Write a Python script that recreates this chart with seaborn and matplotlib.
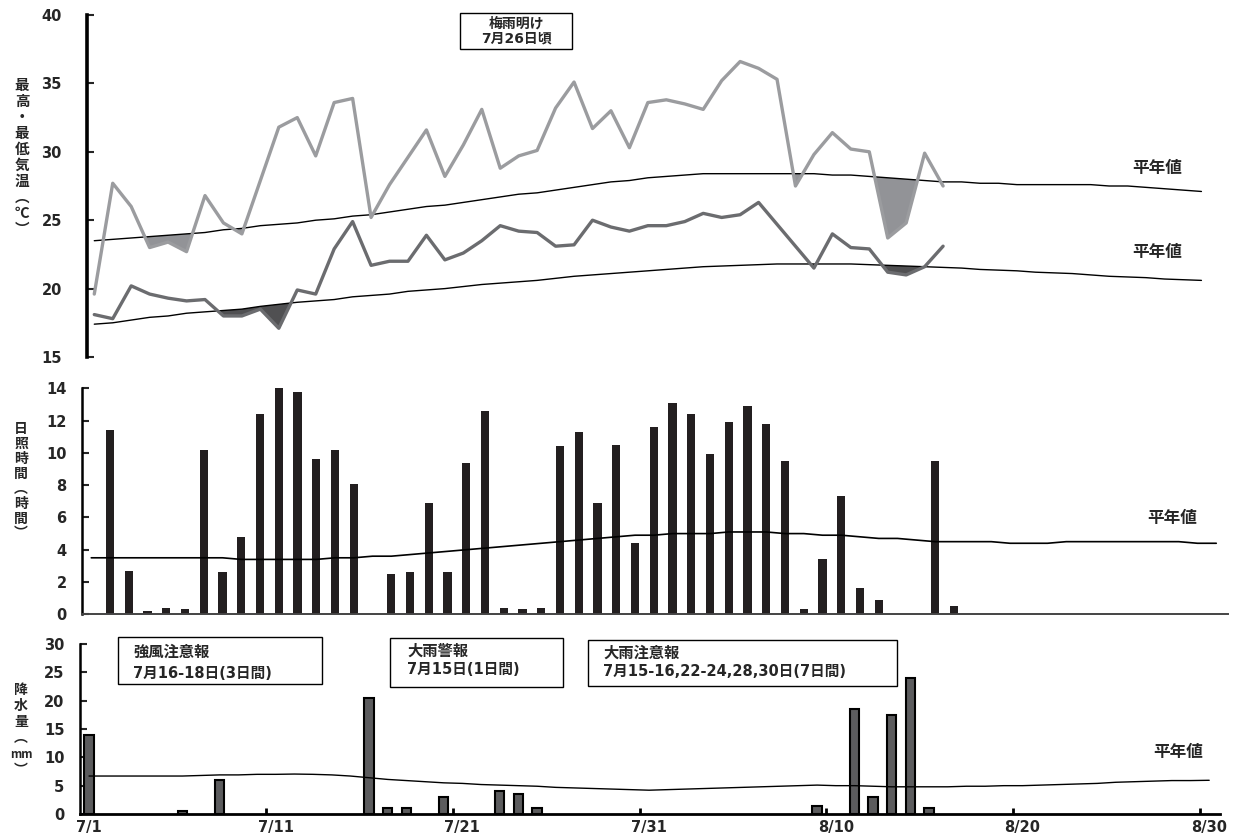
import numpy as np
import matplotlib
matplotlib.use("Agg")
import matplotlib.pyplot as plt
from matplotlib.patches import Rectangle
import seaborn as sns

sns.set_style("white")
plt.rcParams["font.family"] = ["DejaVu Sans", "Noto Sans CJK JP"]
MIXED = ["DejaVu Sans", "Noto Sans CJK JP"]
CJK = ["Noto Sans CJK JP", "DejaVu Sans"]

# ---------------------------------------------------------------- data
date_labels = ["7/1", "7/11", "7/21", "7/31", "8/10", "8/20", "8/30"]

# daily maximum / minimum temperature from 7/1 (deg C)
tmax = [19.6, 27.7, 26.0, 23.0, 23.4, 22.7, 26.8, 24.8, 24.0, 27.9,
        31.8, 32.5, 29.7, 33.6, 33.9, 25.2, 27.6, 29.6, 31.6, 28.2,
        30.5, 33.1, 28.8, 29.7, 30.1, 33.2, 35.1, 31.7, 33.0, 30.3,
        33.6, 33.8, 33.5, 33.1, 35.2, 36.6, 36.1, 35.3, 27.5, 29.8,
        31.4, 30.2, 30.0, 23.7, 24.8, 29.9, 27.5]
tmin = [18.1, 17.8, 20.2, 19.6, 19.3, 19.1, 19.2, 18.0, 18.0, 18.5,
        17.1, 19.9, 19.6, 22.9, 24.9, 21.7, 22.0, 22.0, 23.9, 22.1,
        22.6, 23.5, 24.6, 24.2, 24.1, 23.1, 23.2, 25.0, 24.5, 24.2,
        24.6, 24.6, 24.9, 25.5, 25.2, 25.4, 26.3, 24.7, 23.1, 21.5,
        24.0, 23.0, 22.9, 21.2, 21.0, 21.6, 23.1]

# climatological normals, 7/1 .. 8/30
tmax_normal = [23.5, 23.6, 23.7, 23.8, 23.9, 24.0, 24.1, 24.3, 24.4, 24.6,
               24.7, 24.8, 25.0, 25.1, 25.3, 25.4, 25.6, 25.8, 26.0, 26.1,
               26.3, 26.5, 26.7, 26.9, 27.0, 27.2, 27.4, 27.6, 27.8, 27.9,
               28.1, 28.2, 28.3, 28.4, 28.4, 28.4, 28.4, 28.4, 28.4, 28.4,
               28.3, 28.3, 28.2, 28.1, 28.0, 27.9, 27.8, 27.8, 27.7, 27.7,
               27.6, 27.6, 27.6, 27.6, 27.6, 27.5, 27.5, 27.4, 27.3, 27.2,
               27.1]
tmin_normal = [17.4, 17.5, 17.7, 17.9, 18.0, 18.2, 18.3, 18.4, 18.5, 18.7,
               18.85, 19.0, 19.1, 19.2, 19.4, 19.5, 19.6, 19.8, 19.9, 20.0,
               20.15, 20.3, 20.4, 20.5, 20.6, 20.75, 20.9, 21.0, 21.1, 21.2,
               21.3, 21.4, 21.5, 21.6, 21.65, 21.7, 21.75, 21.8, 21.8, 21.8,
               21.8, 21.8, 21.75, 21.7, 21.65, 21.6, 21.55, 21.5, 21.4, 21.35,
               21.3, 21.2, 21.15, 21.1, 21.0, 20.9, 20.85, 20.8, 20.7, 20.65,
               20.6]

# sunshine duration from 7/1 (hours)
sunshine = [11.4, 2.7, 0.2, 0.4, 0.3, 10.2, 2.6, 4.8, 12.4, 14.0,
            13.8, 9.6, 10.2, 8.1, 0.0, 2.5, 2.6, 6.9, 2.6, 9.4,
            12.6, 0.4, 0.3, 0.4, 10.4, 11.3, 6.9, 10.5, 4.4, 11.6,
            13.1, 12.4, 9.9, 11.9, 12.9, 11.8, 9.5, 0.3, 3.4, 7.3,
            1.6, 0.9, 0.0, 0.0, 9.5, 0.5]
# sunshine normal, 6/30 .. 8/29
sunshine_normal = [3.5, 3.5, 3.5, 3.5, 3.5, 3.5, 3.5, 3.5, 3.4, 3.4,
                   3.4, 3.4, 3.4, 3.5, 3.5, 3.6, 3.6, 3.7, 3.8, 3.9,
                   4.0, 4.1, 4.2, 4.3, 4.4, 4.5, 4.6, 4.7, 4.8, 4.9,
                   4.9, 5.0, 5.0, 5.0, 5.1, 5.1, 5.1, 5.0, 5.0, 4.9,
                   4.9, 4.8, 4.7, 4.7, 4.6, 4.5, 4.5, 4.5, 4.5, 4.4,
                   4.4, 4.4, 4.5, 4.5, 4.5, 4.5, 4.5, 4.5, 4.5, 4.4,
                   4.4]

# precipitation (mm): day offsets from 7/1 with rain, and amounts
precip_days = [0, 5, 7, 15, 16, 17, 19, 22, 23, 24, 39, 41, 42, 43, 44, 45]
precip = [14.0, 0.5, 6.0, 20.5, 1.0, 1.0, 3.0, 4.0, 3.5, 1.0,
          1.5, 18.5, 3.0, 17.5, 24.0, 1.0]
precip_normal = [6.7, 6.7, 6.7, 6.7, 6.7, 6.7, 6.8, 6.9, 6.9, 7.0,
                 7.0, 7.05, 7.0, 6.9, 6.7, 6.4, 6.1, 5.9, 5.7, 5.5,
                 5.4, 5.2, 5.1, 5.0, 4.9, 4.7, 4.6, 4.5, 4.4, 4.3,
                 4.2, 4.3, 4.4, 4.5, 4.6, 4.7, 4.8, 4.9, 5.0, 5.1,
                 5.0, 5.0, 4.9, 4.8, 4.8, 4.8, 4.8, 4.9, 4.9, 5.0,
                 5.0, 5.1, 5.2, 5.3, 5.4, 5.6, 5.7, 5.8, 5.9, 5.9,
                 5.95]

# ---------------------------------------------------------------- layout
W, H = 1243, 839
fig = plt.figure(figsize=(W / 100, H / 100), dpi=100)


def axes_px(left, top, right, bottom):
    return fig.add_axes([left / W, 1 - bottom / H,
                         (right - left) / W, (bottom - top) / H])


def fxy(x, y):
    return x / W, 1 - y / H


def vertical_label(chars, x, y, size, pitch):
    n = len(chars)
    for i, item in enumerate(chars):
        ch, sz = item if isinstance(item, tuple) else (item, size)
        yy = y + (i - (n - 1) / 2) * pitch
        fig.text(*fxy(x, yy), ch, ha="center", va="center",
                 fontsize=sz, fontweight="bold", family=CJK)


def style_yaxis(ax, pad, lw):
    for s in ["top", "right", "bottom"]:
        ax.spines[s].set_visible(False)
    ax.spines["left"].set_linewidth(lw)
    ax.spines["left"].set_color("black")
    ax.tick_params(axis="y", direction="in", length=5, width=1.5,
                   pad=pad, labelsize=10.5, left=True)
    for t in ax.get_yticklabels():
        t.set_fontweight("bold")
    ax.set_xlabel("")
    ax.set_ylabel("")
    ax.grid(False)


# ----------------------------------------------------------- temperature
ax1 = axes_px(86.9, 15, 1212.5, 357)
days_t = np.arange(len(tmax))
days_n = np.arange(len(tmax_normal))
nmax = np.array(tmax_normal[:len(tmax)])
nmin = np.array(tmin_normal[:len(tmin)])
amax = np.array(tmax)
amin = np.array(tmin)

# shade the spells running below normal
ax1.fill_between(days_t, amax, nmax, where=(amax < nmax) & (days_t > 0),
                 interpolate=True, color="#929397", lw=0, zorder=1)
ax1.fill_between(days_t, amin, nmin, where=(amin < nmin) & (days_t > 0),
                 interpolate=True, color="#505052", lw=0, zorder=1)
sns.lineplot(x=days_n, y=tmax_normal, ax=ax1, color="black", linewidth=1.0)
sns.lineplot(x=days_n, y=tmin_normal, ax=ax1, color="black", linewidth=1.0)
sns.lineplot(x=days_t, y=tmax, ax=ax1, color="#9b9c9f", linewidth=2.4)
sns.lineplot(x=days_t, y=tmin, ax=ax1, color="#6b6c6f", linewidth=2.4)
ax1.set_xlim(-0.4, 60.6)
ax1.set_ylim(15, 40)
ax1.set_yticks(range(15, 41, 5))
ax1.set_xticks([])
style_yaxis(ax1, pad=18, lw=2.6)

fig.text(*fxy(1157, 168), "平年値", ha="center", va="center",
         fontsize=12, fontweight="bold", family=CJK)
fig.text(*fxy(1157, 252), "平年値", ha="center", va="center",
         fontsize=12, fontweight="bold", family=CJK)
vertical_label(["最", "高", "・", "最", "低", "気", "温", "︵", "℃", "︶"],
               22, 157, 10.5, 16)

# ------------------------------------------------------------- sunshine
ax2 = axes_px(81.9, 388.3, 1227.5, 614.3)
days_s = np.arange(len(sunshine))
days_sn = np.arange(len(sunshine_normal)) - 1
sns.barplot(x=days_s, y=sunshine, ax=ax2, native_scale=True, width=0.43,
            color="#231f20", saturation=1, errorbar=None, linewidth=0)
sns.lineplot(x=days_sn, y=sunshine_normal, ax=ax2, color="black",
             linewidth=1.2)
ax2.set_xlim(-1.5, 59.6)
ax2.set_ylim(0, 14)
ax2.set_yticks(range(0, 15, 2))
ax2.set_xticks([])
style_yaxis(ax2, pad=11, lw=1.8)
ax2.spines["bottom"].set_visible(True)
ax2.spines["bottom"].set_color("#444444")
ax2.spines["bottom"].set_linewidth(1.4)

fig.text(*fxy(1172, 518), "平年値", ha="center", va="center",
         fontsize=12, fontweight="bold", family=CJK)
vertical_label(["日", "照", "時", "間", "︵", "時", "間", "︶"],
               21, 481, 10, 15)

# -------------------------------------------------------- precipitation
ax3 = axes_px(79.7, 644, 1220.4, 814)
sns.barplot(x=precip_days, y=precip, ax=ax3, native_scale=True, width=0.5,
            color="#5c5c5e", saturation=1, errorbar=None,
            edgecolor="black", linewidth=1.5)
sns.lineplot(x=np.arange(len(precip_normal)), y=precip_normal, ax=ax3,
             color="black", linewidth=1.0)
ax3.set_xlim(-0.5, 60.6)
ax3.set_ylim(0, 30)
ax3.set_yticks(range(0, 31, 5))
style_yaxis(ax3, pad=11, lw=1.8)
ax3.spines["bottom"].set_visible(True)
ax3.spines["bottom"].set_color("black")
ax3.spines["bottom"].set_linewidth(2.0)
ax3.set_xticks(range(0, 61, 10))
ax3.set_xticklabels(date_labels, fontsize=10.5, fontweight="bold")
ax3.set_xticks(np.arange(9.5, 60, 10), minor=True)
ax3.tick_params(axis="x", which="major", length=0, pad=4, bottom=True)
ax3.tick_params(axis="x", which="minor", direction="in", length=4,
                width=2, color="black", bottom=True)

fig.text(*fxy(1178, 752), "平年値", ha="center", va="center",
         fontsize=12, fontweight="bold", family=CJK)
vertical_label(["降", "水", "量", "︵", ("mm", 8.5), "︶"], 21, 730, 10, 16)

# ------------------------------------------------------------ notices
boxes = [
    ((460, 13, 572, 49), ["梅雨明け", "7月26日頃"], "center", 516,
     [24, 38], [10, 10]),
    ((118, 637, 322, 684), ["強風注意報", "7月16-18日(3日間)"], "left", 133,
     [652, 674], [11, 10.5]),
    ((390, 638, 563, 687), ["大雨警報", "7月15日(1日間)"], "left", 407,
     [651, 670], [11, 10.5]),
    ((588, 640, 897, 686), ["大雨注意報", "7月15-16,22-24,28,30日(7日間)"],
     "left", 603, [653, 671], [11, 10.5]),
]
for (l, t, r, b), lines, ha, tx, tys, sizes in boxes:
    x0, y0 = fxy(l, b)
    fig.add_artist(Rectangle((x0, y0), (r - l) / W, (b - t) / H,
                             transform=fig.transFigure, fill=True,
                             facecolor="white", edgecolor="black", lw=1.0))
    for line, ty, size in zip(lines, tys, sizes):
        fig.text(*fxy(tx, ty), line, ha=ha, va="center", fontsize=size,
                 fontweight="bold", family=MIXED)

fig.savefig("out.png", dpi=100)
